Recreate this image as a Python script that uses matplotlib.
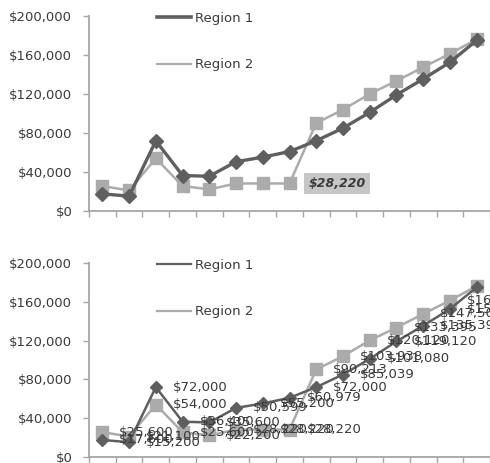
import matplotlib
matplotlib.use("Agg")
import matplotlib.pyplot as plt
from matplotlib.lines import Line2D
from matplotlib.ticker import FuncFormatter, FixedLocator

# Monthly revenue by region (15 periods)
periods = list(range(1, 16))
region1 = [17600, 15200, 72000, 36400, 35600, 50599, 55200, 60979,
           72000, 85039, 101080, 119120, 135393, 152500, 175000]
region2 = [25600, 21100, 54000, 25600, 22200, 28220, 28220, 28220,
           90213, 103938, 120120, 133395, 147500, 161300, 176200]
series_names = ["Region 1", "Region 2"]
y_ticks = [0, 40000, 80000, 120000, 160000, 200000]
highlight_index = 7  # the flat stretch value called out in the upper chart

C1 = "#5f5f5f"
C2 = "#ababab"
AXIS = "#a6a6a6"
TEXT = "#3a3a3a"
FS = 9.5

fig = plt.figure(figsize=(4.9, 4.63), dpi=100)
W, H = 490, 463


def make_axes(top_px, bottom_px):
    left = 89 / W
    right = 490 / W
    return fig.add_axes([left, 1 - bottom_px / H, right - left, (bottom_px - top_px) / H])


def style(ax):
    ax.set_xlim(0.5, 15.5)
    ax.set_ylim(0, 200000)
    ax.set_yticks(y_ticks)
    ax.yaxis.set_major_formatter(FuncFormatter(lambda v, p: f"${v:,.0f}"))
    ax.xaxis.set_major_locator(FixedLocator([p - 0.5 for p in periods] + [15.5]))
    ax.set_xticklabels([])
    for s in ("top", "right"):
        ax.spines[s].set_visible(False)
    for s in ("left", "bottom"):
        ax.spines[s].set_color(AXIS)
        ax.spines[s].set_linewidth(1.3)
    ax.tick_params(axis="both", colors=AXIS, length=4, width=1.0, direction="out")
    ax.tick_params(axis="y", labelcolor=TEXT, labelsize=FS, pad=8)
    ax.tick_params(axis="x", labelbottom=False)


def legend(ax, lw1, lw2):
    handles = [Line2D([], [], color=C1, lw=lw1), Line2D([], [], color=C2, lw=lw2)]
    leg = ax.legend(handles, series_names, loc="upper left",
                    bbox_to_anchor=(0.170, 1.023), frameon=False,
                    borderpad=0, borderaxespad=0, handlelength=2.6,
                    handletextpad=0.25, labelspacing=2.55,
                    prop={"size": FS})
    for t in leg.get_texts():
        t.set_color(TEXT)


# Upper chart: single callout
ax1 = make_axes(16, 211)
style(ax1)
ax1.plot(periods, region1, color=C1, lw=2.4, marker="D", ms=7, zorder=3)
ax1.plot(periods, region2, color=C2, lw=1.8, marker="s", ms=8.5, zorder=2)
legend(ax1, 2.6, 1.6)
ax1.annotate(f"${region2[highlight_index]:,}", (periods[highlight_index], region2[highlight_index]),
             xytext=(19, 0), textcoords="offset pixels", ha="left", va="center",
             fontsize=9, fontweight="bold", fontstyle="italic", color=TEXT,
             bbox=dict(boxstyle="square,pad=0.35", fc="#c6c6c6", ec="none"))

# Lower chart: every point labelled
ax2 = make_axes(263, 457)
style(ax2)
ax2.plot(periods, region1, color=C1, lw=1.8, marker="D", ms=6.5, zorder=3)
ax2.plot(periods, region2, color=C2, lw=1.8, marker="s", ms=8.5, zorder=2)
legend(ax2, 1.6, 1.6)
for vals in (region1, region2):
    for x, v in zip(periods, vals):
        ax2.annotate(f"${v:,}", (x, v), xytext=(17, 0), textcoords="offset pixels",
                     ha="left", va="center", fontsize=FS, color=TEXT,
                     annotation_clip=False)

fig.savefig("out.png", dpi=100)
